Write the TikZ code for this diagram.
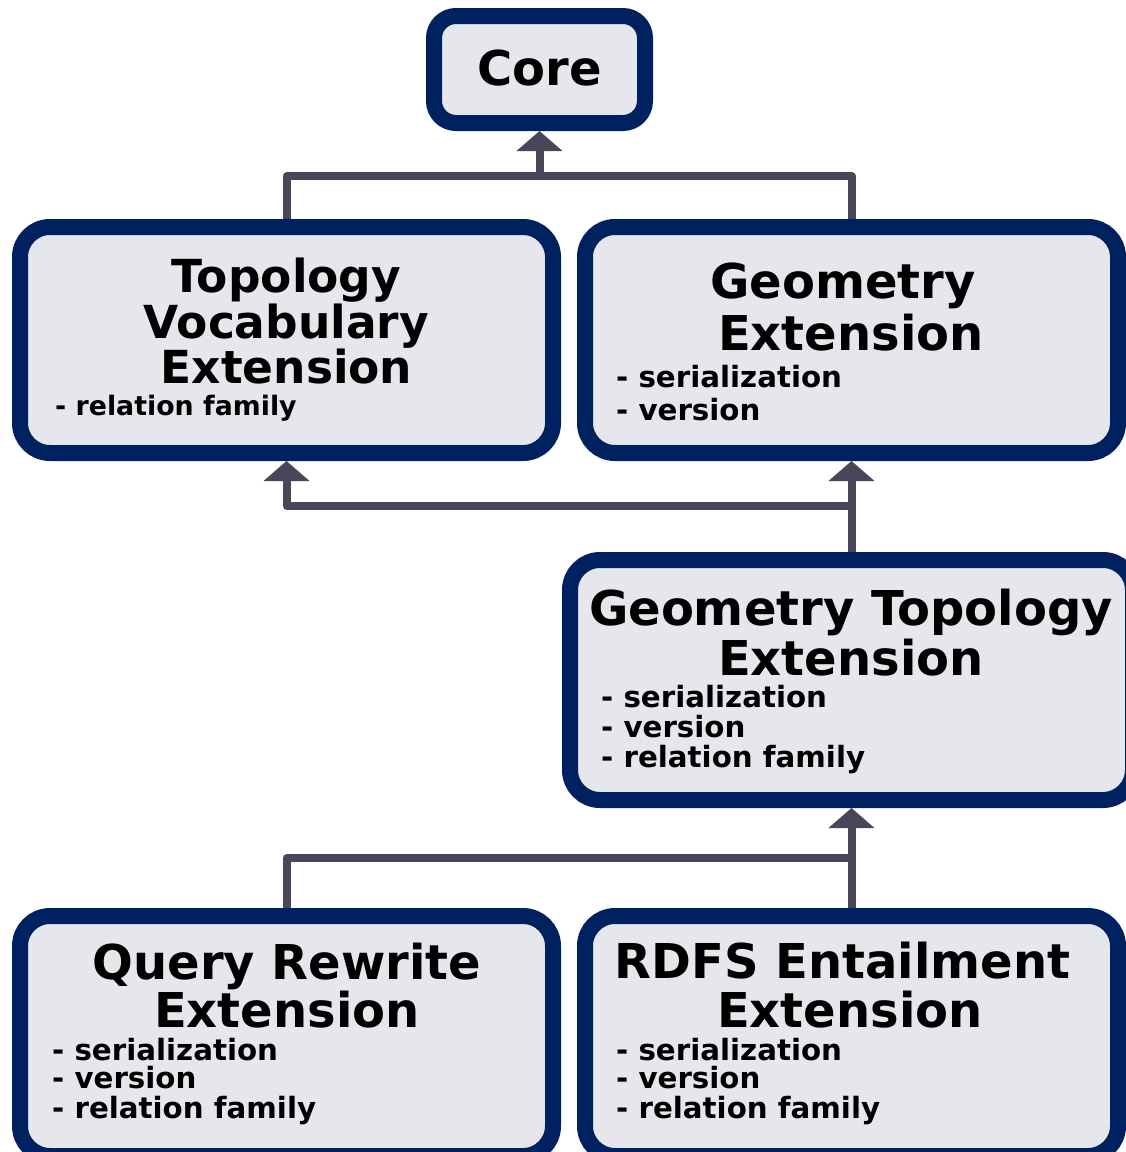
\documentclass[tikz,border=0pt]{standalone}
\usepackage{fontspec}
\setmainfont{DejaVu Sans}
\usetikzlibrary{arrows.meta}
\definecolor{navy}{RGB}{0,33,96}
\definecolor{boxfill}{RGB}{230,231,236}
\definecolor{conncol}{RGB}{72,71,90}
\begin{document}
\begin{tikzpicture}[x=1pt,y=-1pt,
  box/.style={draw=navy, fill=boxfill, line width=16pt, rounded corners=30pt, rectangle, inner sep=0pt},
  ttl/.style={font=\fontsize{48}{49}\selectfont\bfseries, inner sep=0pt, anchor=base},
  ttls/.style={font=\fontsize{45.5}{46}\selectfont\bfseries, inner sep=0pt, anchor=base},
  bul/.style={font=\fontsize{29.3}{30}\selectfont\bfseries, inner sep=0pt, anchor=base west},
  buls/.style={font=\fontsize{26.8}{28}\selectfont\bfseries, inner sep=0pt, anchor=base west},
  link/.style={draw=conncol, line width=8pt, line join=round},
  arr/.style={link, -{Triangle[width=46pt,length=20pt,line width=0pt]}}]
\useasboundingbox (0,0) rectangle (1126,1152);
\begin{scope}
\clip (0,0) rectangle (1126,1152);
% boxes
\node[box, rounded corners=22pt, minimum width=211pt, minimum height=107pt] (core) at (539.5,69.5) {};
\node[box, minimum width=533pt, minimum height=226pt] (topo) at (286.5,340) {};
\node[box, minimum width=533pt, minimum height=226pt] (geo) at (851.5,340) {};
\node[box, minimum width=563pt, minimum height=240pt] (gt) at (851.5,680) {};
\node[box, minimum width=533pt, minimum height=240pt] (qr) at (286.5,1036) {};
\node[box, minimum width=533pt, minimum height=240pt] (rdfs) at (851.5,1036) {};
% texts
\node[ttl] (coreT) at (539.5,85) {Core};
\node[ttls] (topoT1) at (286.5,292) {Topology};
\node[ttls] (topoT2) at (286.5,338) {Vocabulary};
\node[ttls] (topoT3) at (286.5,383) {Extension};
\node[buls] (topoB1) at (55,415) {- relation family};
\node[ttl] (geoT1) at (843,298) {Geometry};
\node[ttl] (geoT2) at (851,350) {Extension};
\node[bul] (geoB1) at (616,387) {- serialization};
\node[bul] (geoB2) at (616,420) {- version};
\node[ttl] (gtT1) at (851,625) {Geometry Topology};
\node[ttl] (gtT2) at (851,675) {Extension};
\node[bul] (gtB1) at (601,707) {- serialization};
\node[bul] (gtB2) at (601,737) {- version};
\node[bul] (gtB3) at (601,767) {- relation family};
\node[ttl] (qrT1) at (287,979) {Query Rewrite};
\node[ttl] (qrT2) at (287,1027) {Extension};
\node[bul] (qrB1) at (52,1060) {- serialization};
\node[bul] (qrB2) at (52,1088) {- version};
\node[bul] (qrB3) at (52,1118) {- relation family};
\node[ttl] (rdfsT1) at (842.5,978) {RDFS Entailment};
\node[ttl] (rdfsT2) at (850,1027) {Extension};
\node[bul] (rdfsB1) at (616,1060) {- serialization};
\node[bul] (rdfsB2) at (616,1088) {- version};
\node[bul] (rdfsB3) at (616,1118) {- relation family};
\end{scope}
% connectors
\coordinate (j1) at (539.5,176);
\draw[arr] (topo.north) |- (j1) -- (core.south);
\draw[link] (geo.north) |- (j1);
\coordinate (j2) at (851.5,506);
\draw[arr] (gt.north) -- (geo.south);
\draw[arr] (j2) -| (topo.south);
\coordinate (j3) at (851.5,858);
\draw[arr] (rdfs.north) -- (gt.south);
\draw[link] (qr.north) |- (j3);
\end{tikzpicture}
\end{document}
